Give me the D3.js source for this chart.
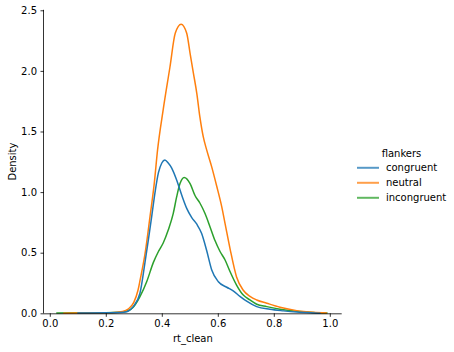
<!DOCTYPE html>
<html>
<head>
<meta charset="utf-8">
<script src="https://cdn.jsdelivr.net/npm/d3@7"></script>
<style>
  body { margin: 0; background: #fff; }
  text { font-family: "DejaVu Sans", sans-serif; }
</style>
</head>
<body>
<svg id="chart" width="454" height="352"></svg>
<script>
// ---- data ----
const categories = ["congruent", "neutral", "incongruent"];
const colors = ["#1f77b4", "#ff7f0e", "#2ca02c"];

const congruentX = [0.10, 0.20, 0.25, 0.275, 0.298, 0.322, 0.340, 0.352, 0.364, 0.376, 0.388, 0.400, 0.411, 0.423, 0.435, 0.453, 0.471, 0.489, 0.507, 0.525, 0.542, 0.560, 0.578, 0.602, 0.632, 0.655, 0.679, 0.703, 0.739, 0.786, 0.834, 0.882, 0.930, 0.965];
const congruentY = [0.002, 0.004, 0.006, 0.013, 0.055, 0.165, 0.42, 0.605, 0.80, 1.00, 1.16, 1.24, 1.265, 1.24, 1.20, 1.10, 0.976, 0.866, 0.79, 0.735, 0.66, 0.52, 0.36, 0.26, 0.215, 0.185, 0.14, 0.10, 0.055, 0.033, 0.02, 0.01, 0.004, 0.001];

const neutralX = [0.05, 0.15, 0.22, 0.26, 0.28, 0.30, 0.315, 0.323, 0.340, 0.358, 0.373, 0.385, 0.405, 0.429, 0.448, 0.469, 0.489, 0.501, 0.513, 0.525, 0.536, 0.548, 0.560, 0.578, 0.596, 0.614, 0.626, 0.644, 0.667, 0.691, 0.715, 0.739, 0.775, 0.822, 0.882, 0.941, 0.988];
const neutralY = [0.001, 0.003, 0.005, 0.015, 0.035, 0.09, 0.19, 0.28, 0.49, 0.80, 1.07, 1.35, 1.68, 2.03, 2.31, 2.385, 2.31, 2.145, 1.98, 1.815, 1.62, 1.457, 1.35, 1.21, 1.05, 0.88, 0.74, 0.53, 0.30, 0.19, 0.14, 0.11, 0.083, 0.05, 0.022, 0.008, 0.002];

const incongruentX = [0.025, 0.10, 0.20, 0.25, 0.275, 0.298, 0.322, 0.346, 0.370, 0.388, 0.405, 0.423, 0.441, 0.453, 0.465, 0.480, 0.501, 0.519, 0.536, 0.554, 0.572, 0.590, 0.608, 0.626, 0.644, 0.667, 0.691, 0.715, 0.739, 0.775, 0.822, 0.882, 0.940, 0.990];
const incongruentY = [0.003, 0.004, 0.005, 0.008, 0.017, 0.05, 0.137, 0.26, 0.42, 0.51, 0.58, 0.687, 0.825, 0.96, 1.07, 1.12, 1.07, 0.97, 0.91, 0.825, 0.715, 0.60, 0.51, 0.44, 0.343, 0.233, 0.15, 0.11, 0.075, 0.055, 0.033, 0.016, 0.007, 0.002];

const xTicks = [0.0, 0.2, 0.4, 0.6, 0.8, 1.0];
const yTicks = [0.0, 0.5, 1.0, 1.5, 2.0, 2.5];
const xLabel = "rt_clean";
const yLabel = "Density";
const legendTitle = "flankers";

// ---- layout ----
const svg = d3.select("#chart");
const mLeft = 44, mRight = 341.7, mTop = 9.8, mBottom = 313.3;
const x = d3.scaleLinear().domain([-0.0207, 1.0425]).range([mLeft, mRight]);
const y = d3.scaleLinear().domain([0, 2.504]).range([mBottom, mTop]);

const series = [
  { name: categories[0], color: colors[0], xs: congruentX, ys: congruentY },
  { name: categories[1], color: colors[1], xs: neutralX, ys: neutralY },
  { name: categories[2], color: colors[2], xs: incongruentX, ys: incongruentY }
];

const line = d3.line()
  .x(d => x(d[0]))
  .y(d => y(d[1]))
  .curve(d3.curveMonotoneX);

// draw in reverse hue order (congruent ends on top)
series.slice().reverse().forEach(s => {
  svg.append("path")
    .datum(s.xs.map((v, i) => [v, s.ys[i]]))
    .attr("d", line)
    .attr("fill", "none")
    .attr("stroke", s.color)
    .attr("stroke-width", 1.5)
    .attr("stroke-linejoin", "round")
    .attr("stroke-linecap", "round");
});

// axes
const xAxis = d3.axisBottom(x).tickValues(xTicks).tickFormat(d3.format(".1f")).tickSize(3.5).tickPadding(3.5);
const yAxis = d3.axisLeft(y).tickValues(yTicks).tickFormat(d3.format(".1f")).tickSize(3.5).tickPadding(3.5);

const gx = svg.append("g").attr("transform", `translate(0,${mBottom})`).call(xAxis);
const gy = svg.append("g").attr("transform", `translate(${mLeft},0)`).call(yAxis);

[gx, gy].forEach(g => {
  g.select(".domain").attr("stroke", "#000").attr("stroke-width", 0.8);
  g.selectAll(".tick line").attr("stroke", "#000").attr("stroke-width", 0.8);
  g.selectAll(".tick text").attr("fill", "#000").style("font-size", "10px").style("font-family", "DejaVu Sans");
});
gx.select(".domain").attr("d", `M${mLeft},0.5H${mRight}`);
gy.select(".domain").attr("d", `M-0.5,${mBottom}V${mTop}`);

svg.append("text")
  .attr("x", (mLeft + mRight) / 2)
  .attr("y", 342)
  .attr("text-anchor", "middle")
  .attr("fill", "#000")
  .style("font-size", "10px")
  .text(xLabel);

svg.append("text")
  .attr("transform", `translate(15.5,${(mTop + mBottom) / 2}) rotate(-90)`)
  .attr("text-anchor", "middle")
  .attr("fill", "#000")
  .style("font-size", "10px")
  .text(yLabel);

// legend
const lg = svg.append("g");
lg.append("text")
  .attr("x", 401.5)
  .attr("y", 156.5)
  .attr("text-anchor", "middle")
  .attr("fill", "#000")
  .style("font-size", "10px")
  .text(legendTitle);

series.forEach((s, i) => {
  const ly = 167.8 + i * 15;
  lg.append("line")
    .attr("x1", 357).attr("x2", 379)
    .attr("y1", ly).attr("y2", ly)
    .attr("stroke", s.color)
    .attr("stroke-width", 2)
    .attr("stroke-opacity", 0.75);
  lg.append("text")
    .attr("x", 386)
    .attr("y", ly + 3.6)
    .attr("fill", "#000")
    .style("font-size", "10px")
    .text(s.name);
});
</script>
</body>
</html>
